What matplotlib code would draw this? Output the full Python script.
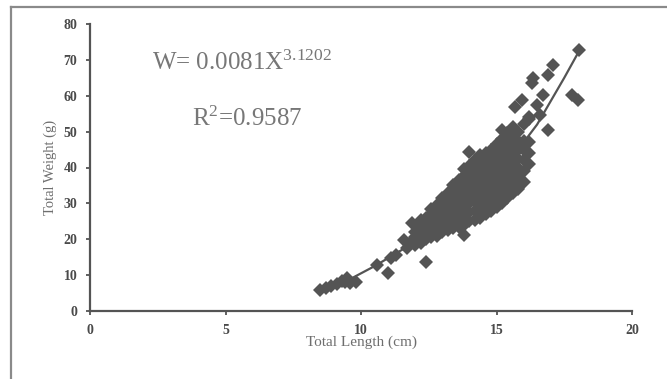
import matplotlib
matplotlib.use("Agg")
import matplotlib.pyplot as plt
from matplotlib.lines import Line2D

# fish length (cm) / weight (g)
length_cm = [
    8.5, 8.7, 8.9, 9.1, 9.3, 9.5, 9.6, 9.8, 9.4,
    10.6, 11.0, 11.1, 11.3, 11.7, 12.4, 11.9, 11.8, 11.6, 13.8,
    12.0, 12.0, 12.0,
    12.2, 12.2, 12.2, 12.2,
    12.4, 12.4, 12.4, 12.4,
    12.6, 12.6, 12.6, 12.6, 12.6,
    12.8, 12.8, 12.8, 12.8, 12.8,
    13.0, 13.0, 13.0, 13.0, 13.0, 13.0,
    13.2, 13.2, 13.2, 13.2, 13.2, 13.2,
    13.4, 13.4, 13.4, 13.4, 13.4, 13.4, 13.4,
    13.6, 13.6, 13.6, 13.6, 13.6, 13.6, 13.6,
    13.8, 13.8, 13.8, 13.8, 13.8, 13.8, 13.8, 13.8,
    14.0, 14.0, 14.0, 14.0, 14.0, 14.0, 14.0, 14.0, 14.0,
    14.2, 14.2, 14.2, 14.2, 14.2, 14.2, 14.2, 14.2,
    14.4, 14.4, 14.4, 14.4, 14.4, 14.4, 14.4, 14.4,
    14.6, 14.6, 14.6, 14.6, 14.6, 14.6, 14.6, 14.6,
    14.8, 14.8, 14.8, 14.8, 14.8, 14.8, 14.8, 14.8,
    15.0, 15.0, 15.0, 15.0, 15.0, 15.0, 15.0, 15.0,
    15.2, 15.2, 15.2, 15.2, 15.2, 15.2, 15.2, 15.2, 15.2,
    15.4, 15.4, 15.4, 15.4, 15.4, 15.4, 15.4, 15.4,
    15.6, 15.6, 15.6, 15.6, 15.6, 15.6, 15.6, 15.6,
    15.8, 15.8, 15.8, 15.8, 15.8, 15.8, 15.8,
    16.0, 16.0, 16.0, 16.0, 16.0, 16.0,
    16.2, 16.2, 16.2, 16.2,
    18.04, 17.1, 16.9, 16.35, 16.3, 16.7, 15.95, 15.7, 16.5,
    17.8, 18.0, 16.9, 16.2, 16.6,
]
weight_g = [
    5.9, 6.5, 7.1, 7.6, 8.4, 9.3, 7.8, 8.2, 8.0,
    12.8, 10.6, 14.8, 15.6, 17.6, 13.7, 24.6, 19.0, 19.8, 21.2,
    18.5, 20.5, 22.0,
    19.0, 21.0, 23.5, 25.5,
    20.0, 22.0, 24.0, 26.0,
    20.5, 22.5, 24.5, 27.0, 28.5,
    21.0, 23.0, 25.0, 27.0, 29.5,
    22.0, 24.0, 26.0, 28.0, 30.0, 31.5,
    22.5, 24.5, 26.5, 28.5, 30.5, 33.0,
    23.0, 25.0, 27.0, 29.0, 31.0, 33.0, 35.0,
    23.5, 26.0, 28.0, 30.0, 32.0, 34.0, 36.5,
    24.0, 26.5, 29.0, 31.0, 33.0, 35.0, 37.5, 39.5,
    25.0, 27.5, 30.0, 32.0, 34.0, 36.0, 38.5, 40.5, 44.3,
    25.5, 28.0, 30.5, 33.0, 35.0, 37.0, 39.5, 42.0,
    26.0, 28.5, 31.0, 33.5, 36.0, 38.0, 40.5, 43.5,
    27.0, 29.5, 32.0, 34.5, 37.0, 39.0, 41.5, 44.0,
    28.0, 30.5, 33.0, 35.5, 38.0, 40.5, 43.0, 45.0,
    29.0, 31.5, 34.0, 36.5, 39.0, 41.5, 44.0, 46.5,
    30.0, 32.5, 35.0, 37.5, 40.0, 42.5, 45.0, 48.0, 50.4,
    31.5, 34.0, 36.5, 39.0, 41.5, 44.0, 46.5, 49.5,
    33.0, 35.5, 38.0, 40.5, 43.0, 45.5, 48.0, 51.3,
    34.0, 37.0, 40.0, 42.5, 45.0, 47.5, 50.0,
    36.0, 39.0, 42.0, 45.0, 47.5, 52.0,
    41.0, 44.0, 47.0, 53.5,
    72.7, 68.5, 65.7, 64.9, 63.5, 60.2, 58.8, 56.8, 57.4,
    60.2, 58.8, 50.4, 54.0, 54.5,
]

# power trend line as drawn on the chart
trend_x = [8.5, 9.5, 10.5, 11.5, 12.5, 13.5, 14.5, 15.5, 16.5, 17.0, 17.5, 18.05]
trend_y = [5.5, 8.5, 12.5, 17.0, 22.0, 27.5, 34.0, 42.0, 52.0, 58.5, 65.0, 72.5]

x_ticks = [0, 5, 10, 15, 20]
y_ticks = [0, 10, 20, 30, 40, 50, 60, 70, 80]

plt.rcParams["font.family"] = ["Liberation Serif", "DejaVu Serif"]
plt.rcParams["mathtext.fontset"] = "custom"
plt.rcParams["mathtext.rm"] = "Liberation Serif"
plt.rcParams["mathtext.it"] = "Liberation Serif:italic"

fig = plt.figure(figsize=(6.67, 3.79), dpi=100)
ax = fig.add_axes([90 / 667, 1 - 311 / 379, 542 / 667, 287 / 379])

ink = "#545454"
ax.plot(trend_x, trend_y, color=ink, lw=1.6, zorder=2)
ax.plot(length_cm, weight_g, linestyle="none", marker="D", ms=7.2,
        color=ink, markeredgewidth=0, zorder=3)

ax.set_xlim(0, 20)
ax.set_ylim(0, 80)
ax.set_xticks(x_ticks)
ax.set_yticks(y_ticks)
for s in ["top", "right"]:
    ax.spines[s].set_visible(False)
for s in ["left", "bottom"]:
    ax.spines[s].set_color(ink)
    ax.spines[s].set_linewidth(1.6)
ax.tick_params(colors=ink, width=1.3, length=3, pad=6, labelsize=10)
for lab in ax.get_xticklabels() + ax.get_yticklabels():
    lab.set_fontweight("bold")
    lab.set_color("#4a4a4a")

ax.set_xlabel("Total Length (cm)", fontsize=11, color="#6e6e6e", labelpad=-1)
ax.set_ylabel("Total Weight (g)", fontsize=10.5, color="#6e6e6e", labelpad=5)

ax.text(2.3, 67.3, "W= 0.0081X$^{3.1202}$", fontsize=18, color="#777777")
ax.text(3.75, 51.5, "R$^{2}$=0.9587", fontsize=18, color="#777777")

# outer frame (top and left edges only visible)
fc = "#8a8a8a"
fig.add_artist(Line2D([11 / 667, 11 / 667], [0, 1 - 7 / 379], color=fc, lw=1.6,
                      transform=fig.transFigure))
fig.add_artist(Line2D([11 / 667, 1], [1 - 7 / 379, 1 - 7 / 379], color=fc, lw=1.6,
                      transform=fig.transFigure))

fig.savefig("out.png", dpi=100)
